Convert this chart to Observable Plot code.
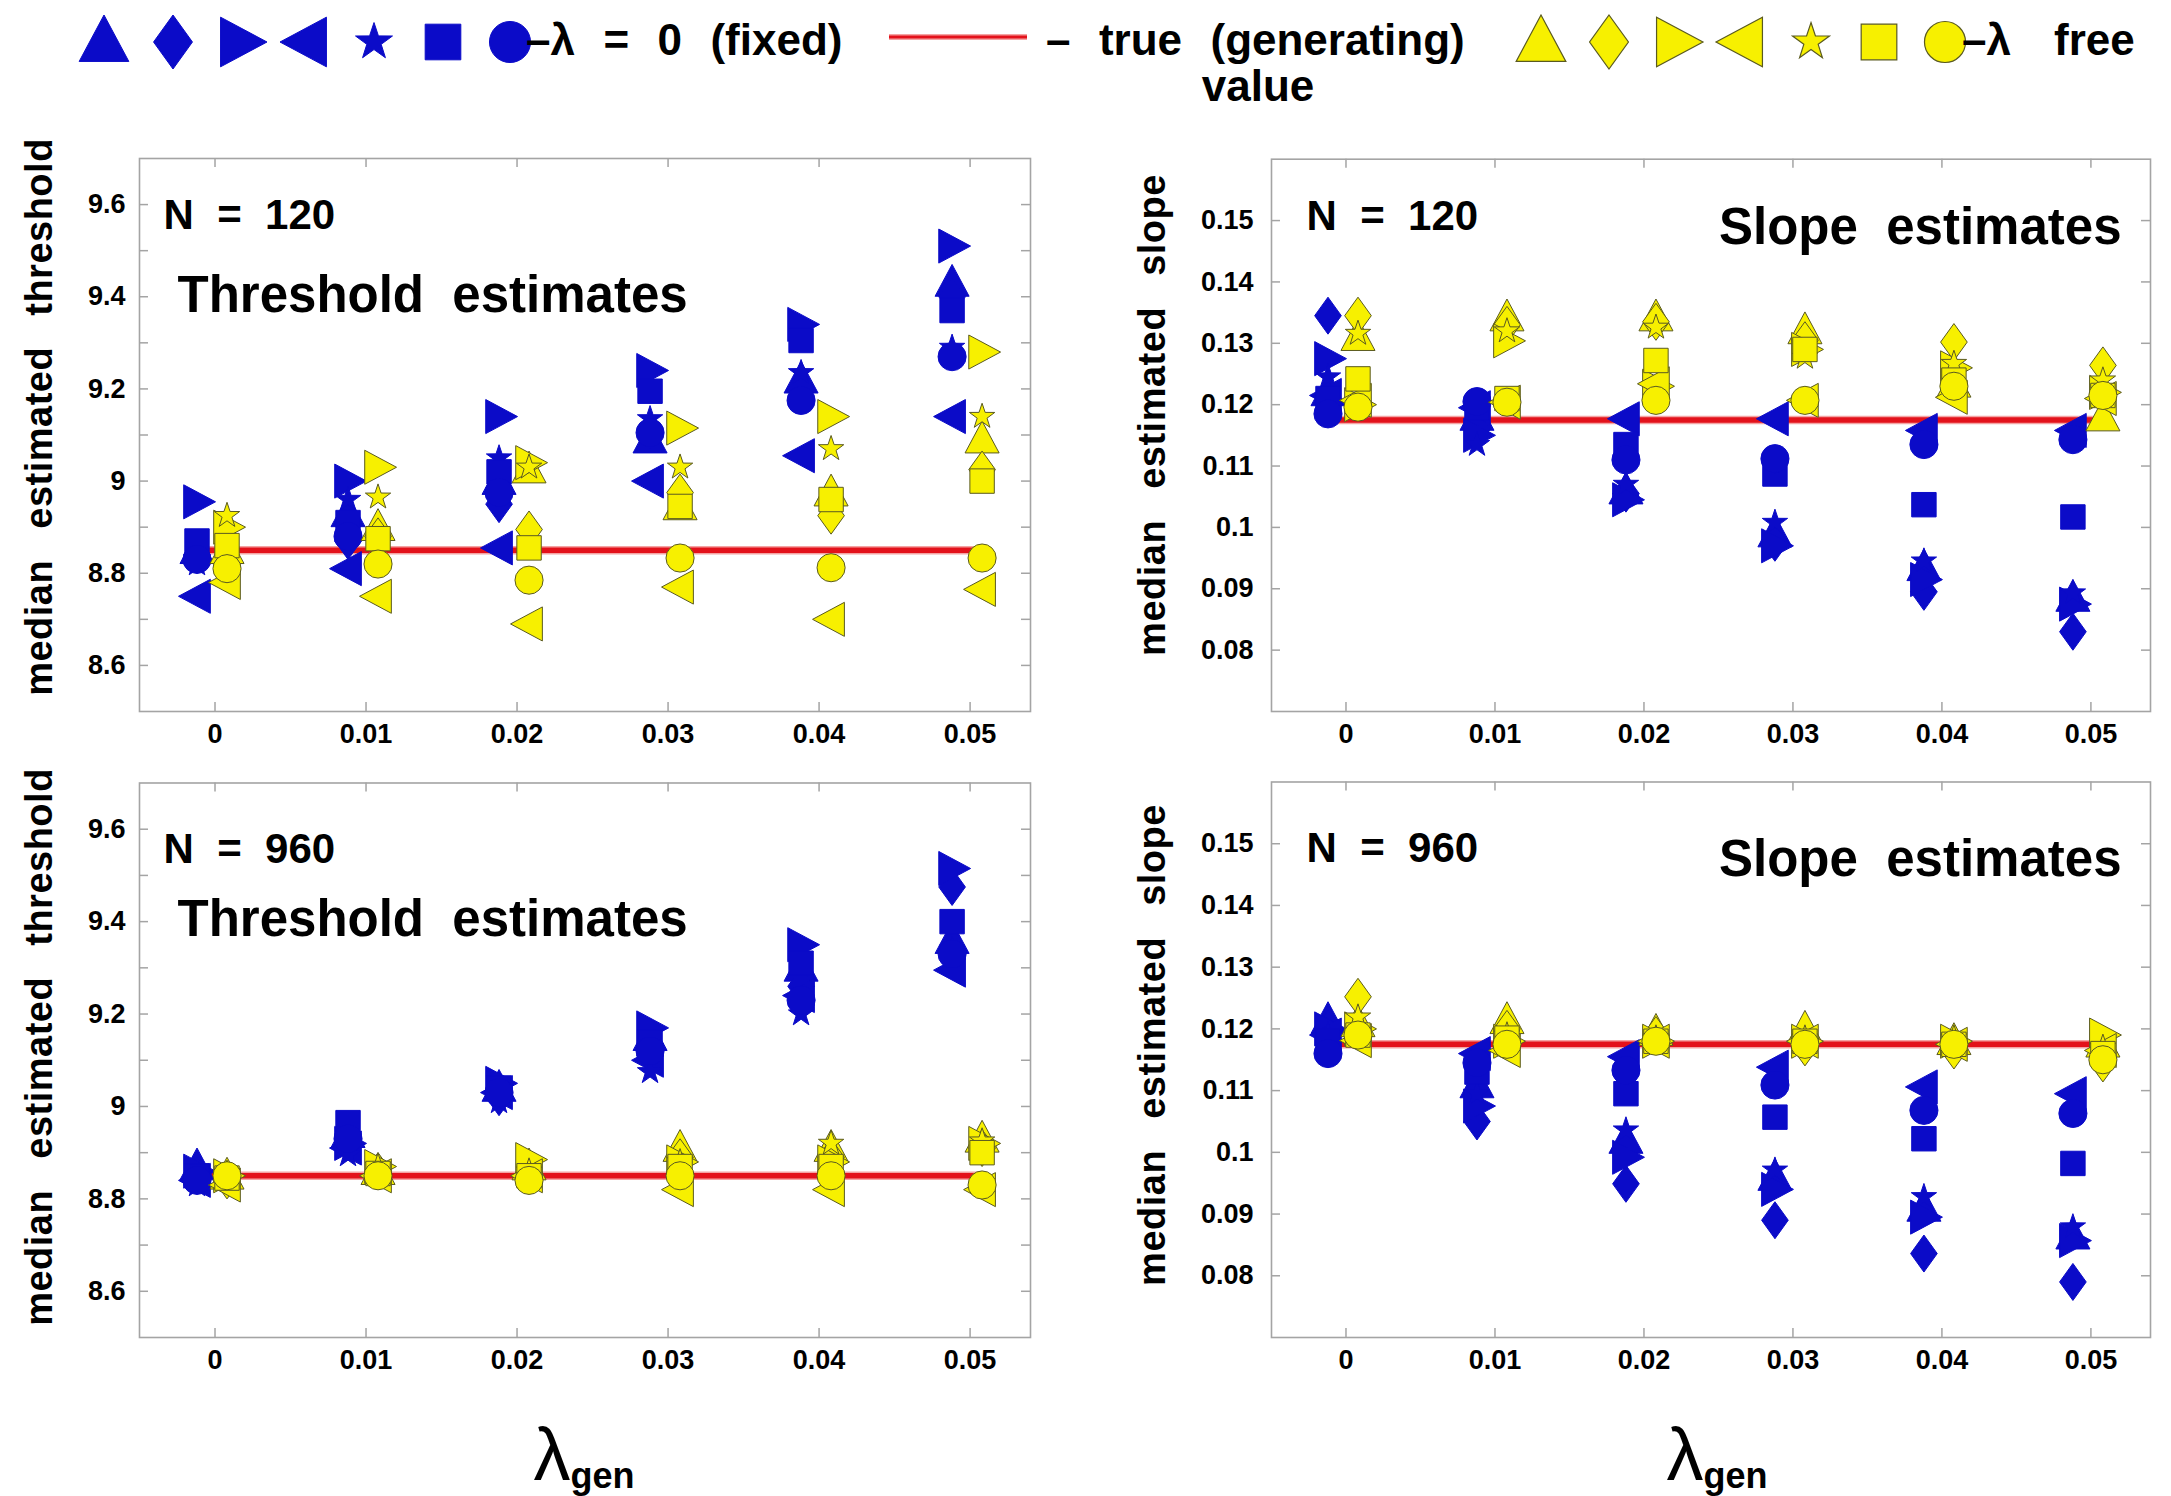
<!DOCTYPE html>
<html>
<head>
<meta charset="utf-8">
<script src="https://cdn.jsdelivr.net/npm/d3@7"></script>
<script src="https://cdn.jsdelivr.net/npm/@observablehq/plot@0.6"></script>
<style>
  html, body { margin: 0; padding: 0; background: #fff; }
  #root { position: relative; width: 2171px; height: 1496px; overflow: hidden; font-family: "Liberation Sans", Arial, sans-serif; }
  .panel { position: absolute; }
  svg text { white-space: pre; }
  #overlay { position: absolute; left: 0; top: 0; pointer-events: none; }
</style>
</head>
<body>
<div id="root"></div>
<script>
// ---------------- DATA ----------------
const lambdas = [0, 0.01, 0.02, 0.03, 0.04, 0.05];
const markerTypes = ["triangle", "diamond", "right", "left", "star", "square", "circle"];
const trueThreshold = 8.85;
const trueSlope = 0.1175;
const thresholdTickLabels = [8.6, 8.8, 9, 9.2, 9.4, 9.6];
const thresholdTickMarks = [8.6, 8.7, 8.8, 8.9, 9, 9.1, 9.2, 9.3, 9.4, 9.5, 9.6];
const slopeTickLabels = [0.08, 0.09, 0.1, 0.11, 0.12, 0.13, 0.14, 0.15];

// rows follow markerTypes order; columns follow lambdas
const thr120Fixed = [
  [8.85, 8.93, 9.00, 9.09, 9.22, 9.43],
  [8.84, 8.87, 8.95, 9.11, 9.20, 9.40],
  [8.955, 9.00, 9.14, 9.24, 9.34, 9.51],
  [8.75, 8.81, 8.855, 9.00, 9.055, 9.14],
  [8.82, 8.96, 9.05, 9.135, 9.235, 9.29],
  [8.87, 8.91, 9.02, 9.195, 9.305, 9.37],
  [8.83, 8.88, 8.975, 9.105, 9.175, 9.27]
];
const thr120Free = [
  [8.85, 8.90, 9.025, 8.945, 8.975, 9.09],
  [8.82, 8.88, 8.895, 8.975, 8.925, 9.025],
  [8.90, 9.03, 9.04, 9.115, 9.14, 9.28],
  [8.78, 8.75, 8.69, 8.77, 8.70, 8.765],
  [8.925, 8.965, 9.03, 9.03, 9.07, 9.14],
  [8.86, 8.875, 8.855, 8.945, 8.96, 9.00],
  [8.81, 8.82, 8.785, 8.833, 8.812, 8.833]
];
const slope120Fixed = [
  [0.122, 0.118, 0.106, 0.099, 0.0935, 0.0885],
  [0.1345, 0.116, 0.1055, 0.0975, 0.0895, 0.083],
  [0.1275, 0.115, 0.1045, 0.097, 0.0915, 0.0875],
  [0.1215, 0.1195, 0.1177, 0.1177, 0.1158, 0.1158],
  [0.1245, 0.1135, 0.107, 0.1008, 0.0945, 0.0893],
  [0.121, 0.1195, 0.1135, 0.1087, 0.1037, 0.1017],
  [0.1185, 0.1205, 0.111, 0.1112, 0.1135, 0.1143]
];
const slope120Free = [
  [0.131, 0.1342, 0.1342, 0.1321, 0.1234, 0.1179],
  [0.1345, 0.133, 0.1335, 0.1305, 0.1302, 0.1264],
  [0.120, 0.1304, 0.123, 0.129, 0.126, 0.122],
  [0.1207, 0.1204, 0.1234, 0.1207, 0.1212, 0.121],
  [0.1316, 0.132, 0.1326, 0.1277, 0.1267, 0.124],
  [0.1242, 0.121, 0.1272, 0.129, 0.124, 0.1215],
  [0.1196, 0.1204, 0.1207, 0.1207, 0.123, 0.1215]
];
const thr960Fixed = [
  [8.87, 8.94, 9.04, 9.15, 9.30, 9.36],
  [8.85, 8.93, 9.02, 9.11, 9.26, 9.475],
  [8.86, 8.92, 9.05, 9.17, 9.35, 9.515],
  [8.84, 8.91, 9.03, 9.10, 9.24, 9.295],
  [8.83, 8.895, 9.01, 9.075, 9.20, 9.34],
  [8.85, 8.965, 9.04, 9.14, 9.31, 9.40],
  [8.84, 8.93, 9.03, 9.12, 9.23, 9.33]
];
const thr960Free = [
  [8.85, 8.86, 8.87, 8.91, 8.91, 8.93],
  [8.84, 8.86, 8.855, 8.89, 8.89, 8.91],
  [8.85, 8.87, 8.885, 8.88, 8.88, 8.92],
  [8.83, 8.85, 8.85, 8.82, 8.82, 8.82],
  [8.855, 8.87, 8.86, 8.88, 8.92, 8.925],
  [8.845, 8.855, 8.85, 8.87, 8.87, 8.90],
  [8.85, 8.85, 8.84, 8.85, 8.85, 8.83]
];
const slope960Fixed = [
  [0.1214, 0.111, 0.102, 0.096, 0.091, 0.0865],
  [0.120, 0.105, 0.0949, 0.089, 0.0836, 0.079],
  [0.120, 0.1075, 0.0992, 0.094, 0.0895, 0.0857],
  [0.119, 0.116, 0.1155, 0.1138, 0.1106, 0.1095],
  [0.119, 0.1095, 0.1036, 0.0971, 0.0928, 0.0879],
  [0.118, 0.113, 0.1095, 0.1057, 0.1022, 0.0982],
  [0.116, 0.1145, 0.1133, 0.1109, 0.1068, 0.1063]
];
const slope960Free = [
  [0.1209, 0.1214, 0.1195, 0.120, 0.118, 0.1176],
  [0.1252, 0.120, 0.119, 0.117, 0.1165, 0.1144],
  [0.120, 0.118, 0.118, 0.118, 0.118, 0.119],
  [0.1181, 0.1165, 0.118, 0.118, 0.1175, 0.1165],
  [0.1219, 0.119, 0.1185, 0.1185, 0.1185, 0.117],
  [0.119, 0.1185, 0.118, 0.118, 0.1175, 0.116],
  [0.119, 0.1175, 0.118, 0.1175, 0.1175, 0.115]
];

// ---------------- STYLE ----------------
const BLUE = "#0b0bc8";
const YELLOW = "#f7f000";
const YELLOW_EDGE = "#5a5a20";
const FRAME = "#a4a4a4";
const FONT = "Liberation Sans, Arial, sans-serif";
const fmt = d3.format("~g");
const MARKER_R = 18.5;

// custom marker shapes (size = pi r^2, as passed by Plot.dot)
function poly(pts) {
  return { draw(ctx, size) { const s = Math.sqrt(size / Math.PI);
    ctx.moveTo(pts[0][0] * s, pts[0][1] * s);
    for (let i = 1; i < pts.length; i++) ctx.lineTo(pts[i][0] * s, pts[i][1] * s);
    ctx.closePath(); } };
}
const starPts = d3.range(10).map(i => {
  const a = -Math.PI / 2 + i * Math.PI / 5, rr = i % 2 ? 0.28 : 0.72;
  return [rr * Math.cos(a), rr * Math.sin(a)];
});
const SYM = {
  triangle: poly([[0, -1], [0.92, 0.72], [-0.92, 0.72]]),
  diamond: poly([[0, -1], [0.72, 0], [0, 1], [-0.72, 0]]),
  right: poly([[1, 0], [-0.72, -0.92], [-0.72, 0.92]]),
  left: poly([[-1, 0], [0.72, -0.92], [0.72, 0.92]]),
  star: poly(starPts),
  square: poly([[-0.66, -0.66], [0.66, -0.66], [0.66, 0.66], [-0.66, 0.66]]),
  circle: { draw(ctx, size) { const s = Math.sqrt(size / Math.PI) * 0.76; ctx.moveTo(s, 0); ctx.arc(0, 0, s, 0, 2 * Math.PI); ctx.closePath(); } }
};

function toRows(matrix) {
  return markerTypes.flatMap((t, i) => lambdas.map((l, j) => ({ lambda: l, value: matrix[i][j], type: t })));
}

function drawPanel(cfg) {
  const FW = cfg.width - cfg.ml - cfg.mr;
  const FH = cfg.height - cfg.mt - cfg.mb;
  const fixedRows = toRows(cfg.fixed), freeRows = toRows(cfg.free);
  const truthLine = [
    { lambda: lambdas[0] - 0.0016, value: cfg.truth },
    { lambda: lambdas[lambdas.length - 1] + 0.0009, value: cfg.truth }
  ];
  const dots = [];
  for (const t of markerTypes) {
    dots.push(Plot.dot(fixedRows.filter(d => d.type === t), {
      x: "lambda", y: "value", dx: -18, symbol: SYM[t], r: MARKER_R,
      fill: BLUE, stroke: BLUE, strokeWidth: 1
    }));
  }
  for (const t of markerTypes) {
    dots.push(Plot.dot(freeRows.filter(d => d.type === t), {
      x: "lambda", y: "value", dx: 12, symbol: SYM[t], r: MARKER_R,
      fill: YELLOW, stroke: YELLOW_EDGE, strokeWidth: 1
    }));
  }
  const plot = Plot.plot({
    width: cfg.width, height: cfg.height,
    marginLeft: cfg.ml, marginRight: cfg.mr, marginTop: cfg.mt, marginBottom: cfg.mb,
    x: { domain: [-0.005, 0.054] },
    y: { domain: cfg.yDomain },
    style: { fontFamily: FONT, color: "#000", background: "transparent", overflow: "visible" },
    marks: [
      Plot.ruleX(lambdas, { insetTop: FH - 9, stroke: FRAME, strokeWidth: 1.5 }),
      Plot.ruleX(lambdas, { insetBottom: FH - 9, stroke: FRAME, strokeWidth: 1.5 }),
      Plot.ruleY(cfg.tickMarks, { insetRight: FW - 9, stroke: FRAME, strokeWidth: 1.5 }),
      Plot.ruleY(cfg.tickMarks, { insetLeft: FW - 9, stroke: FRAME, strokeWidth: 1.5 }),
      Plot.frame({ stroke: FRAME, strokeWidth: 1.6 }),
      Plot.axisX(lambdas, { tickSize: 0, tickPadding: 12, tickFormat: fmt, fontSize: 27, fontWeight: "bold", label: null }),
      Plot.axisY(cfg.tickLabels, { tickSize: 0, tickPadding: cfg.yPad, tickFormat: fmt, fontSize: 27, fontWeight: "bold", label: null }),
      Plot.line(truthLine, { x: "lambda", y: "value", stroke: "#f4a3a3", strokeWidth: 8.5 }),
      Plot.line(truthLine, { x: "lambda", y: "value", stroke: "#e3121b", strokeWidth: 5.5 }),
      ...dots,
      Plot.text([cfg.nLabel], { text: d => d, frameAnchor: "top-left", dx: cfg.nDx, dy: cfg.nDy, textAnchor: "start", lineAnchor: "middle", fontSize: 42, fontWeight: "bold" }),
      Plot.text([cfg.title], { text: d => d, frameAnchor: cfg.titleAnchor, dx: cfg.tDx, dy: cfg.tDy, textAnchor: cfg.titleAnchor === "top-left" ? "start" : "end", lineAnchor: "middle", fontSize: 51, fontWeight: "bold" })
    ]
  });
  plot.classList.add("panel");
  plot.style.left = cfg.left + "px";
  plot.style.top = cfg.top + "px";
  document.getElementById("root").appendChild(plot);
}

const thrY = [8.5, 9.7], slopeY = [0.07, 0.16];
drawPanel({ left: 0, top: 120, width: 1040, height: 641, ml: 139, mr: 10, mt: 38, mb: 50,
  fixed: thr120Fixed, free: thr120Free, truth: trueThreshold, yDomain: thrY,
  tickLabels: thresholdTickLabels, tickMarks: thresholdTickMarks, yPad: 14,
  nLabel: "N  =  120", nDx: 24, nDy: 57, title: "Threshold  estimates", titleAnchor: "top-left", tDx: 38, tDy: 137 });
drawPanel({ left: 1160, top: 120, width: 1001, height: 641, ml: 111, mr: 11, mt: 38.7, mb: 50,
  fixed: slope120Fixed, free: slope120Free, truth: trueSlope, yDomain: slopeY,
  tickLabels: slopeTickLabels, tickMarks: slopeTickLabels, yPad: 18,
  nLabel: "N  =  120", nDx: 35, nDy: 57, title: "Slope  estimates", titleAnchor: "top-right", tDx: -29, tDy: 68 });
drawPanel({ left: 0, top: 762, width: 1040, height: 625, ml: 139, mr: 10, mt: 20.5, mb: 50,
  fixed: thr960Fixed, free: thr960Free, truth: trueThreshold, yDomain: thrY,
  tickLabels: thresholdTickLabels, tickMarks: thresholdTickMarks, yPad: 14,
  nLabel: "N  =  960", nDx: 24, nDy: 67, title: "Threshold  estimates", titleAnchor: "top-left", tDx: 38, tDy: 137 });
drawPanel({ left: 1160, top: 762, width: 1001, height: 625, ml: 111, mr: 11, mt: 19.5, mb: 50,
  fixed: slope960Fixed, free: slope960Free, truth: trueSlope, yDomain: slopeY,
  tickLabels: slopeTickLabels, tickMarks: slopeTickLabels, yPad: 18,
  nLabel: "N  =  960", nDx: 35, nDy: 67, title: "Slope  estimates", titleAnchor: "top-right", tDx: -29, tDy: 78 });

// ---------------- LEGEND, AXIS TITLES ----------------
const svg = d3.select("#root").append("svg").attr("id", "overlay")
  .attr("width", 2171).attr("height", 1496).style("font-family", FONT);

function symPath(t, r) { const p = d3.path(); SYM[t].draw(p, Math.PI * r * r); return p.toString(); }
const legendBlueX = [104, 173, 240, 307, 374, 443, 510];
const legendYellowX = [1541, 1609, 1676, 1743, 1811, 1879, 1945];
markerTypes.forEach((t, i) => {
  svg.append("path").attr("d", symPath(t, 27)).attr("transform", `translate(${legendBlueX[i]},42)`)
    .attr("fill", BLUE).attr("stroke", BLUE);
  svg.append("path").attr("d", symPath(t, 27)).attr("transform", `translate(${legendYellowX[i]},42)`)
    .attr("fill", YELLOW).attr("stroke", YELLOW_EDGE).attr("stroke-width", 1.2);
});
const legendText = (x, y, s, anchor = "start") => svg.append("text").attr("x", x).attr("y", y)
  .attr("text-anchor", anchor).attr("font-size", 44).attr("font-weight", "bold")
  .style("word-spacing", "2px").text(s);
legendText(526, 55, "–λ  =  0  (fixed)");
svg.append("line").attr("x1", 889).attr("x2", 1027).attr("y1", 37).attr("y2", 37)
  .attr("stroke", "#f4a3a3").attr("stroke-width", 6);
svg.append("line").attr("x1", 889).attr("x2", 1027).attr("y1", 37).attr("y2", 37)
  .attr("stroke", "#e3121b").attr("stroke-width", 3);
legendText(1046, 55, "–  true  (generating)");
legendText(1258, 101, "value", "middle");
legendText(1962, 55, "–λ");
legendText(2054, 55, "free");

// y axis titles
const yTitle = (x, y, s) => svg.append("text").attr("transform", `translate(${x},${y}) rotate(-90)`)
  .attr("text-anchor", "middle").attr("dominant-baseline", "central")
  .attr("font-size", 38).attr("font-weight", "bold")
  .style("letter-spacing", "0.5px").style("word-spacing", "20px").text(s);
yTitle(39, 417, "median estimated threshold");
yTitle(1152, 415, "median estimated slope");
yTitle(39, 1047, "median estimated threshold");
yTitle(1152, 1045, "median estimated slope");

// x axis titles (lambda_gen)
[[584, 1480], [1717, 1480]].forEach(([x, y]) => {
  const t = svg.append("text").attr("x", x).attr("y", y).attr("text-anchor", "middle");
  t.append("tspan").attr("font-size", 74).text("λ");
  t.append("tspan").attr("font-size", 36).attr("font-weight", "bold").attr("dy", 8).text("gen");
});
</script>
</body>
</html>
